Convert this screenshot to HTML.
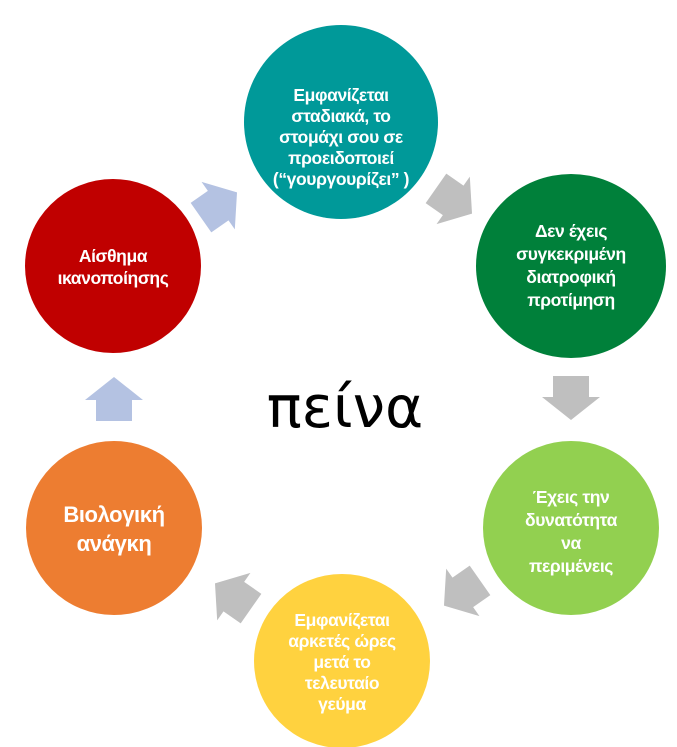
<!DOCTYPE html>
<html><head><meta charset="utf-8"><style>
html,body{margin:0;padding:0;background:#fff}
svg{display:block}
.t{font-family:"Liberation Sans","DejaVu Sans",sans-serif;font-weight:bold;fill:#fff;font-size:17.5px;text-anchor:middle;letter-spacing:-0.4px}
</style></head><body>
<svg width="677" height="747" viewBox="0 0 677 747" xmlns="http://www.w3.org/2000/svg">
<defs>
<polygon id="ar" points="-18,0 18,0 18,-21 29,-21 0,-44 -29,-21 -18,-21" transform="translate(0,22)"/>
</defs>
<ellipse cx="341" cy="122" rx="97" ry="97" fill="#009999"/>
<ellipse cx="571" cy="266" rx="95" ry="92" fill="#00803a"/>
<ellipse cx="571" cy="528" rx="88" ry="87" fill="#92d050"/>
<ellipse cx="342" cy="661" rx="88" ry="87" fill="#ffd23f"/>
<ellipse cx="114" cy="528" rx="88" ry="87" fill="#ed7d31"/>
<ellipse cx="113" cy="266" rx="88" ry="87" fill="#c00000"/>

<use href="#ar" fill="#b4c2e2" transform="translate(114,399)"/>
<use href="#ar" fill="#b4c2e2" transform="translate(219,205) rotate(55)"/>
<use href="#ar" fill="#bfbfbf" transform="translate(454,201) rotate(125)"/>
<use href="#ar" fill="#bfbfbf" transform="translate(571,398) rotate(180)"/>
<use href="#ar" fill="#bfbfbf" transform="translate(462,593) rotate(235)"/>
<use href="#ar" fill="#bfbfbf" transform="translate(233,596) rotate(305)"/>

<text x="345" y="427" font-family="'DejaVu Sans','Liberation Sans',sans-serif" font-size="58" fill="#000" text-anchor="middle">πείνα</text>

<text x="341" y="101" class="t">Εμφανίζεται</text>
<text x="341" y="122" class="t">σταδιακά, το</text>
<text x="341" y="143" class="t">στομάχι σου σε</text>
<text x="341" y="164" class="t">προειδοποιεί</text>
<text x="341" y="185" class="t">(“γουργουρίζει” )</text>

<text x="571" y="237" class="t">Δεν έχεις</text>
<text x="571" y="260" class="t">συγκεκριμένη</text>
<text x="571" y="283" class="t">διατροφική</text>
<text x="571" y="306" class="t">προτίμηση</text>

<text x="571" y="503" class="t">Έχεις την</text>
<text x="571" y="526" class="t">δυνατότητα</text>
<text x="571" y="549" class="t">να</text>
<text x="571" y="572" class="t">περιμένεις</text>

<text x="342" y="626" class="t">Εμφανίζεται</text>
<text x="342" y="647" class="t">αρκετές ώρες</text>
<text x="342" y="668" class="t">μετά το</text>
<text x="342" y="689" class="t">τελευταίο</text>
<text x="342" y="710" class="t">γεύμα</text>

<text x="114" y="522" class="t" style="font-size:22px">Βιολογική</text>
<text x="114" y="551" class="t" style="font-size:22px">ανάγκη</text>

<text x="113" y="262" class="t">Αίσθημα</text>
<text x="113" y="284" class="t">ικανοποίησης</text>
</svg>
</body></html>
